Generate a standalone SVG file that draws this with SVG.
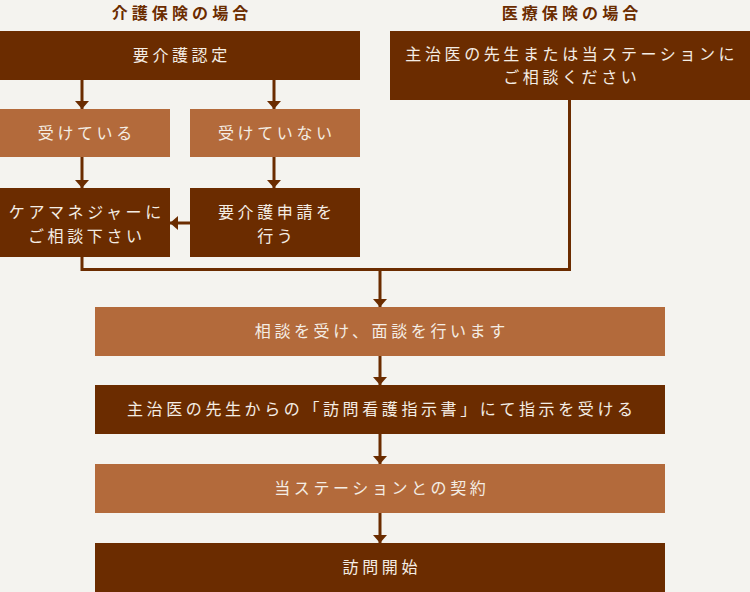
<svg xmlns="http://www.w3.org/2000/svg" width="750" height="592" viewBox="0 0 750 592">
<defs>
<style>
.bg{fill:#f4f3ef}
.dk{fill:#6b2c00}
.lt{fill:#b36a3b}
.t{font-family:"Noto Sans CJK JP","Noto Sans",sans-serif;font-size:16px;fill:#f4ede4;text-anchor:middle;letter-spacing:3.6px}
.h{font-family:"Noto Sans CJK JP","Noto Sans",sans-serif;font-size:16px;font-weight:bold;fill:#6b2c00;text-anchor:middle;letter-spacing:4.1px}
.c{fill:none;stroke:#6b2c00;stroke-width:3}
</style>
<marker id="ar" viewBox="0 0 8 14" refX="8" refY="7" markerWidth="8" markerHeight="14" markerUnits="userSpaceOnUse" orient="auto">
<path d="M0,0 L8,7 L0,14 z" fill="#6b2c00"/>
</marker>
</defs>
<rect class="bg" x="0" y="0" width="750" height="592"/>
<g id="titles">
<text class="h" x="182" y="18.5">介護保険の場合</text>
<text class="h" x="572" y="18.5">医療保険の場合</text>
</g>
<g id="connectors">
<path class="c" d="M82,80 V109" marker-end="url(#ar)"/>
<path class="c" d="M274,80 V109" marker-end="url(#ar)"/>
<path class="c" d="M82,157 V188" marker-end="url(#ar)"/>
<path class="c" d="M274,157 V188" marker-end="url(#ar)"/>
<path class="c" d="M190,223 H170" marker-end="url(#ar)"/>
<path class="c" d="M82,257 V269.5 H569.5 V100"/>
<path class="c" d="M380,269.5 V307" marker-end="url(#ar)"/>
<path class="c" d="M380,356 V385" marker-end="url(#ar)"/>
<path class="c" d="M380,434 V464" marker-end="url(#ar)"/>
<path class="c" d="M380,513 V543" marker-end="url(#ar)"/>
</g>
<g id="n1"><rect class="dk" x="0" y="31" width="360" height="49"/><text class="t" x="181.8" y="61">要介護認定</text></g>
<g id="n2"><rect class="dk" x="390" y="31" width="360" height="69"/><text class="t" x="571.8" y="59.75">主治医の先生または当ステーションに</text><text class="t" x="571.8" y="83.25">ご相談ください</text></g>
<g id="n3"><rect class="lt" x="0" y="109" width="170" height="48"/><text class="t" x="86.8" y="139">受けている</text></g>
<g id="n4"><rect class="lt" x="190" y="109" width="170" height="48"/><text class="t" x="276.8" y="139">受けていない</text></g>
<g id="n5"><rect class="dk" x="0" y="188" width="170" height="69"/><text class="t" x="86.8" y="218.25">ケアマネジャーに</text><text class="t" x="86.8" y="241.75">ご相談下さい</text></g>
<g id="n6"><rect class="dk" x="190" y="188" width="170" height="69"/><text class="t" x="276.8" y="218.25">要介護申請を</text><text class="t" x="276.8" y="241.75">行う</text></g>
<g id="n7"><rect class="lt" x="95" y="307" width="570" height="49"/><text class="t" x="381.8" y="337">相談を受け、面談を行います</text></g>
<g id="n8"><rect class="dk" x="95" y="385" width="570" height="49"/><text class="t" x="381.8" y="415">主治医の先生からの「訪問看護指示書」にて指示を受ける</text></g>
<g id="n9"><rect class="lt" x="95" y="464" width="570" height="49"/><text class="t" x="381.8" y="494">当ステーションとの契約</text></g>
<g id="n10"><rect class="dk" x="95" y="543" width="570" height="49"/><text class="t" x="381.8" y="573">訪問開始</text></g>
</svg>
